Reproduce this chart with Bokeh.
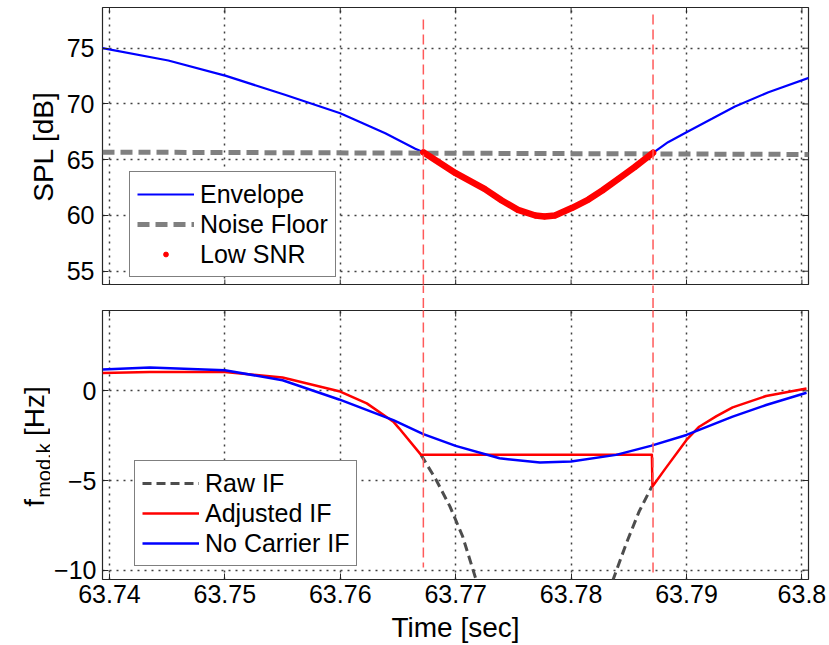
import math
from bokeh.plotting import figure
from bokeh.models import Range1d, LinearAxis, FixedTicker, Legend, LegendItem, Grid
from bokeh.core.properties import value
from bokeh.layouts import column, row
from bokeh.embed import file_html
from bokeh.resources import INLINE

FONT = "Liberation Sans"

# ---------------- data ----------------
time_ticks = [63.74, 63.75, 63.76, 63.77, 63.78, 63.79, 63.80]
time_tick_labels = ["63.74", "63.75", "63.76", "63.77", "63.78", "63.79", "63.8"]
spl_ticks = [55, 60, 65, 70, 75]
if_ticks = [-10, -5, 0]

# Envelope SPL [dB]
env_t = [63.7394, 63.7451, 63.7501, 63.7552, 63.7600, 63.7639, 63.7665, 63.7672,
         63.7700, 63.7725, 63.7740, 63.7754, 63.7769, 63.7777, 63.7786, 63.7801,
         63.7815, 63.7827, 63.7841, 63.7855, 63.7871, 63.7884, 63.7900, 63.7922,
         63.7942, 63.7971, 63.8006]
env_db = [75.0, 73.9, 72.52, 70.82, 69.17, 67.38, 65.98, 65.66,
          63.79, 62.39, 61.34, 60.5, 60.0, 59.91, 60.0, 60.69,
          61.43, 62.24, 63.28, 64.33, 65.62, 66.57, 67.47, 68.67,
          69.77, 71.05, 72.34]

# Noise floor
noise_t = [63.7394, 63.7700, 63.8006]
noise_db = [65.68, 65.58, 65.47]

# Low SNR region boundaries (vertical markers)
low_snr_bounds = [63.7672, 63.7871]
vline_top_spl = [77.57, 78.02]
vline_bottom_hz = [-9.85, -10.13]

# No carrier IF [Hz]
nocarrier_t = [63.7394, 63.7435, 63.7500, 63.7550, 63.7599, 63.7646, 63.7672,
               63.7700, 63.7738, 63.7773, 63.7800, 63.7839, 63.7869, 63.7900,
               63.7940, 63.7969, 63.8004]
nocarrier_hz = [1.19, 1.3, 1.15, 0.59, -0.48, -1.63, -2.41,
                -3.07, -3.76, -4.0, -3.94, -3.57, -3.07, -2.46,
                -1.44, -0.79, -0.11]

# Adjusted IF [Hz]
adjusted_t = [63.7394, 63.7435, 63.7500, 63.7550, 63.7599, 63.7623, 63.7646,
              63.7651, 63.7670, 63.7870, 63.78705, 63.7882, 63.7900, 63.7911,
              63.7926, 63.7940, 63.7969, 63.8004]
adjusted_hz = [1.0, 1.05, 1.05, 0.74, -0.02, -0.70, -1.72,
               -2.09, -3.57, -3.57, -5.33, -4.31, -2.74, -2.0,
               -1.41, -0.92, -0.29, 0.13]

# Raw IF [Hz] (two branches diving out of view)
raw_t = [63.7670, 63.7683, 63.7695, 63.7706, 63.7718, float("nan"),
         63.7836, 63.7848, 63.7859, 63.7870]
raw_hz = [-3.57, -4.96, -6.44, -8.11, -10.6, float("nan"),
          -10.6, -8.48, -6.72, -5.33]

# ---------------- layout constants ----------------
W = 829
LEFT = 102
RIGHT = 21
YLAB_W = 50
xr = Range1d(63.7394, 63.80057)
spl_range = Range1d(53.72, 78.65)
if_range = Range1d(-10.52, 4.48)

GRID_COLOR = "#404040"
GRID_DASH = "2 5"
BOX = "#262626"
VLINE_COLOR = "#ff5a5a"
TICK_FS = "25px"
LABEL_FS = "28px"


def style_axis(ax, ticks, overrides=None):
    ax.ticker = FixedTicker(ticks=ticks, minor_ticks=[])
    ax.major_tick_in = 6
    ax.major_tick_out = 0
    ax.minor_tick_in = 0
    ax.minor_tick_out = 0
    ax.axis_line_color = None
    ax.major_tick_line_color = BOX
    ax.major_tick_line_width = 1
    ax.major_label_text_font = FONT
    ax.major_label_text_font_size = TICK_FS
    ax.major_label_text_color = "black"
    ax.axis_label_text_font = FONT
    ax.axis_label_text_font_style = "normal"
    ax.axis_label_text_font_size = LABEL_FS
    ax.axis_label_text_color = "black"
    if overrides:
        ax.major_label_overrides = overrides


def make_panel(width, height, yr, yticks, borders, with_xaxis):
    left, top_b, bottom_b = borders
    p = figure(width=width, height=height, x_range=xr, y_range=yr,
               output_backend="svg", toolbar_location=None,
               x_axis_type=None, y_axis_type=None,
               min_border_left=left, min_border_right=RIGHT,
               min_border_top=top_b, min_border_bottom=bottom_b)
    p.outline_line_color = BOX
    p.outline_line_width = 1.2
    p.background_fill_color = "white"
    p.border_fill_color = "white"
    for dim, ticks in ((0, time_ticks), (1, yticks)):
        g = Grid(dimension=dim, ticker=FixedTicker(ticks=ticks, minor_ticks=[]),
                 grid_line_color=GRID_COLOR, grid_line_dash=GRID_DASH,
                 grid_line_width=1.5)
        p.add_layout(g)
    yax = LinearAxis()
    style_axis(yax, yticks)
    p.add_layout(yax, "left")
    xax = None
    if with_xaxis:
        xax = LinearAxis()
        style_axis(xax, time_ticks, dict(zip(time_ticks, time_tick_labels)))
        p.add_layout(xax, "below")
    else:
        # inward tick marks on the bottom edge
        p.scatter(time_ticks, [yr.start] * len(time_ticks), marker="dash",
                  angle=math.pi / 2, size=12, line_color=BOX, line_width=1)
    # mirrored inward tick marks on top and right edges
    p.scatter(time_ticks, [yr.end] * len(time_ticks), marker="dash",
              angle=math.pi / 2, size=12, line_color=BOX, line_width=1)
    p.scatter([xr.end] * len(yticks), yticks, marker="dash",
              size=12, line_color=BOX, line_width=1)
    return p, xax, yax


# ---------------- top panel ----------------
top, _, top_yax = make_panel(W, 285, spl_range, spl_ticks, (LEFT, 7, 0), False)
top_yax.axis_label = "SPL [dB]"
top_yax.major_label_standoff = 8
top_yax.axis_label_standoff = 5

r_env = top.line(env_t, env_db, line_color="#0000ff", line_width=2.2)
r_noise = top.line(noise_t, noise_db, line_color="#808080", line_width=5,
                   line_dash="12 6")
in_low = [low_snr_bounds[0] - 1e-6 <= t <= low_snr_bounds[1] + 1e-6 for t in env_t]
low_t = [t for t, k in zip(env_t, in_low) if k]
low_db = [d for d, k in zip(env_db, in_low) if k]
top.line(low_t, low_db, line_color="#ff0000", line_width=6.5, line_join="round",
         line_cap="round")
r_low = top.scatter(low_t, low_db, marker="circle", size=5, fill_color="#ff0000",
                    line_color="#ff0000")
top.segment(x0=low_snr_bounds, y0=vline_top_spl, x1=low_snr_bounds,
            y1=[spl_range.start - 1] * 2, line_color=VLINE_COLOR, line_width=1.5,
            line_dash="10 5")

leg_top = Legend(items=[LegendItem(label="Envelope", renderers=[r_env]),
                        LegendItem(label="Noise Floor", renderers=[r_noise]),
                        LegendItem(label="Low SNR", renderers=[r_low])],
                 location=(27, 8))
top.add_layout(leg_top)

# ---------------- spacer (gap between panels) ----------------
gap = figure(width=W, height=25, x_range=xr, y_range=Range1d(0, 1),
             output_backend="svg", toolbar_location=None,
             x_axis_type=None, y_axis_type=None,
             min_border_left=LEFT, min_border_right=RIGHT,
             min_border_top=0, min_border_bottom=0)
gap.outline_line_color = None
gap.background_fill_color = "white"
gap.border_fill_color = "white"
gap.segment(x0=low_snr_bounds, y0=[-0.5, -0.5], x1=low_snr_bounds, y1=[1.5, 1.5],
            line_color=VLINE_COLOR, line_width=1.5, line_dash="10 5")

# ---------------- bottom panel ----------------
BOT_H = 335
BOT_BORDER = 65
bot, bot_xax, bot_yax = make_panel(W - YLAB_W, BOT_H, if_range, if_ticks,
                                   (LEFT - YLAB_W, 0, BOT_BORDER), True)
bot_xax.axis_label = "Time [sec]"
bot_xax.major_label_standoff = 5
bot_xax.axis_label_standoff = 6
bot_yax.major_label_standoff = 6

r_raw = bot.line(raw_t, raw_hz, line_color="#4d4d4d", line_width=3, line_dash="9 5")
r_adj = bot.line(adjusted_t, adjusted_hz, line_color="#ff0000", line_width=2.5,
                 line_join="round")
r_nc = bot.line(nocarrier_t, nocarrier_hz, line_color="#0000ff", line_width=2.5,
                line_join="round")
bot.segment(x0=low_snr_bounds, y0=[if_range.end + 1] * 2, x1=low_snr_bounds,
            y1=vline_bottom_hz, line_color=VLINE_COLOR, line_width=1.5,
            line_dash="10 5")

leg_bot = Legend(items=[LegendItem(label="Raw IF", renderers=[r_raw]),
                        LegendItem(label="Adjusted IF", renderers=[r_adj]),
                        LegendItem(label="No Carrier IF", renderers=[r_nc])],
                 location=(32, 13))
bot.add_layout(leg_bot)

for leg in (leg_top, leg_bot):
    leg.label_text_font = FONT
    leg.label_text_font_size = "25px"
    leg.label_text_color = "black"
    leg.glyph_width = 57
    leg.glyph_height = 12
    leg.label_height = 30
    leg.spacing = 0
    leg.padding = 7
    leg.margin = 0
    leg.label_standoff = 6
    leg.border_line_color = "black"
    leg.border_line_width = 1
    leg.background_fill_color = "white"
    leg.background_fill_alpha = 1.0

# ---------------- y label of bottom panel (with subscript) ----------------
# its frame is aligned with the bottom panel's frame (270 px tall)
FRAME_H = BOT_H - BOT_BORDER
ylab = figure(width=YLAB_W, height=BOT_H, x_range=Range1d(0, YLAB_W),
              y_range=Range1d(0, FRAME_H), output_backend="svg",
              toolbar_location=None, x_axis_type=None, y_axis_type=None,
              min_border_left=0, min_border_right=0, min_border_top=0,
              min_border_bottom=BOT_BORDER)
ylab.outline_line_color = None
ylab.background_fill_color = "white"
ylab.border_fill_color = "white"
ylab_parts = [("f", 34, 73, LABEL_FS),
              ("mod,k", 43.5, 82, "20px"),
              ("[Hz]", 34, 144, LABEL_FS)]
for txt, x, y, fs in ylab_parts:
    ylab.text(x=[x], y=[y], text=[txt], angle=math.pi / 2,
              text_font=value(FONT), text_font_size=value(fs),
              text_align="left", text_baseline="alphabetic", text_color="black")

layout = column(top, gap, row(ylab, bot, spacing=0), spacing=0)
open("out.html", "w").write(file_html(layout, INLINE))
